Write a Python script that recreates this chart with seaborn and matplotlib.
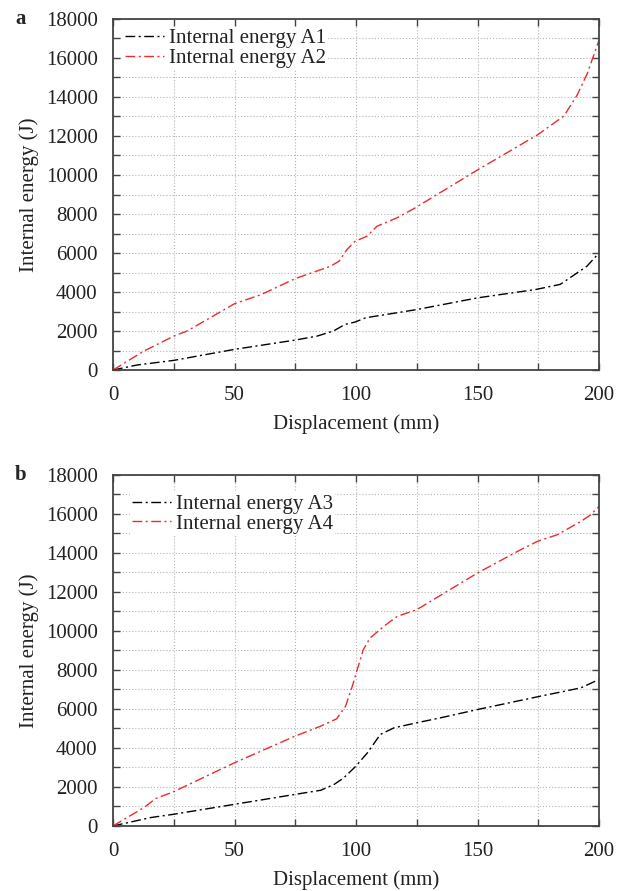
import numpy as np
import pandas as pd
import seaborn as sns
import matplotlib.pyplot as plt
from matplotlib.ticker import MultipleLocator

# data
disp_a1 = [0, 10, 25, 50, 75, 84, 90.7, 95.5, 99.6, 104, 125, 150, 174, 184, 189, 195, 200]
energy_a1 = [0, 260, 495, 1060, 1536, 1740, 2000, 2340, 2460, 2680, 3100, 3700, 4130, 4390, 4810, 5320, 6000]

disp_a2 = [0, 12.7, 25, 30.5, 50, 61, 75, 89.5, 93, 96.3, 99.6, 104.5, 108.6, 116.8, 124, 150,
           174.6, 185.6, 191, 195.2, 199.3, 200]
energy_a2 = [0, 970, 1740, 2000, 3400, 3870, 4690, 5320, 5580, 6180, 6600, 6860, 7370, 7800, 8290, 10260,
             12050, 13030, 14100, 15210, 16670, 16900]

disp_a3 = [0, 15.5, 25, 50, 75, 85.5, 91, 95, 100, 104.7, 110, 115.6, 125, 135, 150, 174.6, 192.5, 200]
energy_a3 = [0, 430, 600, 1110, 1620, 1830, 2130, 2470, 3070, 3750, 4690, 5030, 5290, 5550, 5970, 6620,
             7080, 7510]

disp_a4 = [0, 12.7, 17.5, 25, 50, 75, 85.5, 92, 95.7, 98.5, 100.5, 103, 105.8, 111.5, 117, 125, 150,
           166.5, 174.6, 182.8, 192.5, 196.6, 200]
energy_a4 = [0, 940, 1400, 1760, 3240, 4610, 5120, 5490, 6140, 7170, 8020, 9040, 9640, 10240, 10750,
             11090, 12970, 14080, 14590, 14930, 15610, 15960, 16380]

panels = [
    ('a', [('Internal energy A1', disp_a1, energy_a1, 'black'),
           ('Internal energy A2', disp_a2, energy_a2, '#ee2a2e')]),
    ('b', [('Internal energy A3', disp_a3, energy_a3, 'black'),
           ('Internal energy A4', disp_a4, energy_a4, '#ee2a2e')]),
]

sns.set_theme(style='ticks')
plt.rcParams['font.family'] = ['Liberation Serif', 'DejaVu Serif']

fig = plt.figure(figsize=(6.25, 8.91), dpi=100)
boxes = [[0.1808, 0.5847, 0.7776, 0.3940], [0.1808, 0.0730, 0.7776, 0.3940]]
leg_anchor = [(0.021, 0.978), (0.034, 0.950)]
label_y = [0.979, 0.467]

dash = (0, (7, 2.5, 1.5, 2.5))
fs = 15

for i, (tag, series) in enumerate(panels):
    ax = fig.add_axes(boxes[i])
    for name, xs, ys, col in series:
        df = pd.DataFrame({'x': xs, 'y': ys})
        sns.lineplot(data=df, x='x', y='y', ax=ax, color=col, linewidth=1.0,
                     linestyle=dash, label=name, sort=False)
    ax.set_xlim(0, 200)
    ax.set_ylim(0, 18000)
    ax.xaxis.set_major_locator(MultipleLocator(50))
    ax.xaxis.set_minor_locator(MultipleLocator(25))
    ax.yaxis.set_major_locator(MultipleLocator(2000))
    ax.yaxis.set_minor_locator(MultipleLocator(1000))
    ax.tick_params(which='both', direction='in', top=True, right=True, colors='#444444',
                   labelcolor='#222222', labelsize=fs, width=1.0, length=5)
    ax.tick_params(axis='x', which='both', pad=11.5)
    ax.tick_params(axis='y', which='both', pad=11)
    ax.grid(which='both', linestyle=(0, (1, 1.8)), color='#b4b4b4', linewidth=0.8)
    for sp in ax.spines.values():
        sp.set_color('#444444')
        sp.set_linewidth(1.3)
    ax.set_xlabel('Displacement (mm)', fontsize=fs, color='#222222', labelpad=7)
    ax.set_ylabel('Internal energy (J)', fontsize=fs, color='#222222', labelpad=5)
    leg = ax.legend(loc='upper left', bbox_to_anchor=leg_anchor[i], fontsize=fs, frameon=True,
                    fancybox=False, edgecolor='none', framealpha=1, facecolor='white',
                    handlelength=1.875, handletextpad=0.24, labelspacing=0.0, borderpad=0.1,
                    borderaxespad=0.0)
    for t in leg.get_texts():
        t.set_color('#222222')
    fig.text(0.024, label_y[i], tag, fontsize=fs, fontweight='bold', va='center', ha='left')

fig.savefig('out.png', dpi=100)
